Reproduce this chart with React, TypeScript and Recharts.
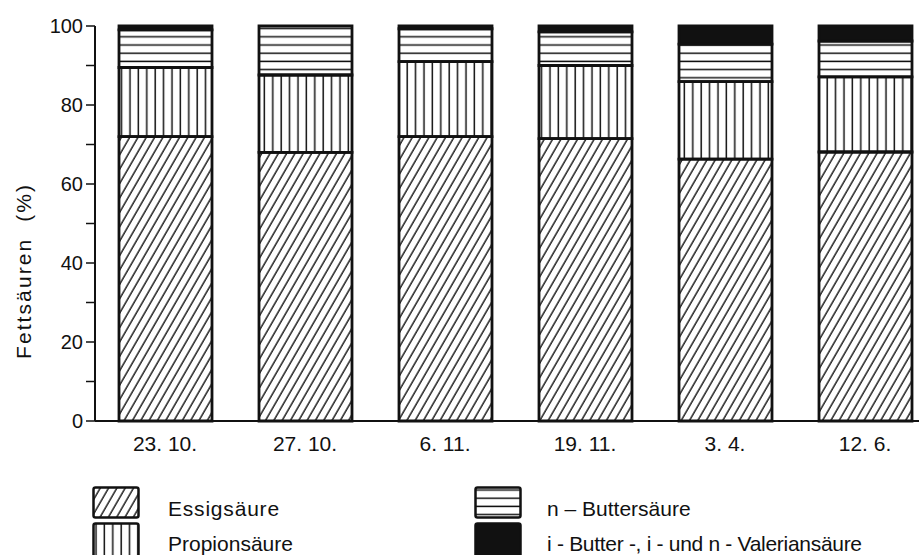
import { BarChart, Bar, XAxis, YAxis, Label } from "recharts";

// sampling dates
const dates = ["23. 10.", "27. 10.", "6. 11.", "19. 11.", "3. 4.", "12. 6."];
// fatty acid shares (%)
const essig = [72, 68, 72, 71.5, 66.3, 68.1];
const propion = [17.5, 19.6, 19, 18.5, 19.6, 19];
const nButter = [9.5, 12.4, 8.3, 8.5, 9.5, 9.1];
const valerian = [1, 0, 0.7, 1.5, 4.6, 3.8];
const yTicks = [0, 10, 20, 30, 40, 50, 60, 70, 80, 90, 100];

const data = dates.map((d, i) => ({
  date: d,
  essig: essig[i],
  propion: propion[i],
  nButter: nButter[i],
  valerian: valerian[i],
}));

const FONT = "'Liberation Sans', Arial, sans-serif";
const INK = "#111";

function Patterns() {
  return (
    <svg width={0} height={0} style={{ position: "absolute" }}>
      <defs>
        <pattern id="diag" width={7.2} height={10} patternUnits="userSpaceOnUse" patternTransform="rotate(30)">
          <line x1={1} y1={0} x2={1} y2={10} stroke={INK} strokeWidth={1.4} />
        </pattern>
        <pattern id="vert" width={8.4} height={10} patternUnits="userSpaceOnUse">
          <line x1={4} y1={0} x2={4} y2={10} stroke={INK} strokeWidth={1.5} />
        </pattern>
        <pattern id="horiz" width={10} height={8.2} patternUnits="userSpaceOnUse">
          <line x1={0} y1={4} x2={10} y2={4} stroke={INK} strokeWidth={1.5} />
        </pattern>
      </defs>
    </svg>
  );
}

function YLabel() {
  return (
    <text
      x={23}
      y={272}
      transform="rotate(-90, 23, 272)"
      textAnchor="middle"
      dominantBaseline="central"
      fontFamily={FONT}
      fontSize={21}
      fill={INK}
      textLength={174}
      lengthAdjust="spacing"
    >
      Fettsäuren&#160;&#160;(%)
    </text>
  );
}

function Swatch({ fill, h }: { fill: string; h: number }) {
  return (
    <svg width={48} height={h} style={{ display: "block" }}>
      <rect x={1.5} y={1.5} width={45} height={h - 3} rx={2} fill={fill} stroke={INK} strokeWidth={2.5} />
    </svg>
  );
}

function LegendRow({ x, y, fill, h, text, tx, ty, spacing }: { x: number; y: number; fill: string; h: number; text: string; tx: number; ty: number; spacing?: number }) {
  return (
    <>
      <div style={{ position: "absolute", left: x, top: y }}>
        <Swatch fill={fill} h={h} />
      </div>
      <div
        style={{
          position: "absolute",
          left: tx,
          top: ty,
          fontFamily: FONT,
          fontSize: 21,
          color: INK,
          whiteSpace: "nowrap",
          lineHeight: "24px",
          letterSpacing: spacing ?? 0,
        }}
      >
        {text}
      </div>
    </>
  );
}

export default function App() {
  return (
    <div style={{ position: "absolute", left: 0, top: 0, width: 919, height: 555, overflow: "hidden", background: "#fff" }}>
      <Patterns />
      <BarChart
        width={935}
        height={460}
        data={data}
        margin={{ top: 26, right: 0, bottom: 0, left: 0 }}
        barSize={93}
      >
        <XAxis
          dataKey="date"
          height={39}
          tickLine={false}
          axisLine={{ stroke: INK, strokeWidth: 2 }}
          tick={{ fill: INK, fontSize: 21, fontFamily: FONT }}
          tickMargin={9}
        />
        <YAxis
          width={95}
          domain={[0, 100]}
          ticks={yTicks}
          interval={0}
          tickSize={9}
          tickFormatter={(v: number) => (v % 20 === 0 ? String(v) : "")}
          axisLine={{ stroke: INK, strokeWidth: 2 }}
          tickLine={{ stroke: INK, strokeWidth: 1.5 }}
          tick={{ fill: INK, fontSize: 20, fontFamily: FONT }}
          tickMargin={3}
        >
          <Label content={<YLabel />} />
        </YAxis>
        <Bar dataKey="essig" stackId="s" fill="url(#diag)" stroke={INK} strokeWidth={2.8} isAnimationActive={false} />
        <Bar dataKey="propion" stackId="s" fill="url(#vert)" stroke={INK} strokeWidth={2.8} isAnimationActive={false} />
        <Bar dataKey="nButter" stackId="s" fill="url(#horiz)" stroke={INK} strokeWidth={2.8} isAnimationActive={false} />
        <Bar dataKey="valerian" stackId="s" fill={INK} stroke={INK} strokeWidth={2.8} isAnimationActive={false} />
      </BarChart>

      <LegendRow x={92} y={486} fill="url(#diag)" h={33} text="Essigsäure" tx={168} ty={497} spacing={0.8} />
      <LegendRow x={92} y={522} fill="url(#vert)" h={36} text="Propionsäure" tx={168} ty={532} />
      <LegendRow x={474} y={486} fill="url(#horiz)" h={33} text="n – Buttersäure" tx={547} ty={497} />
      <LegendRow x={474} y={522} fill={INK} h={36} text="i  -  Butter -, i - und n - Valeriansäure" tx={547} ty={532} spacing={-0.3} />
    </div>
  );
}
